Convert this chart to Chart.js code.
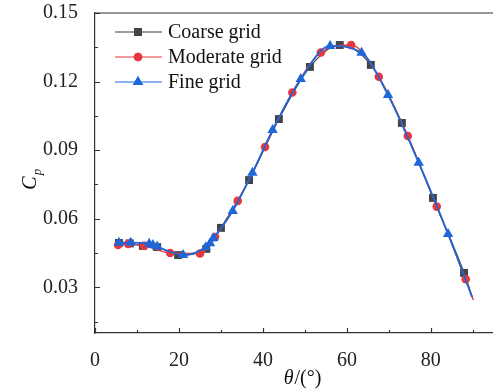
<!DOCTYPE html>
<html>
<head>
<meta charset="utf-8">
<title>Cp vs theta</title>
<style>
  body { margin: 0; background: #fff; overflow: hidden; }
  #wrap { width: 493px; height: 390px; position: relative; }
</style>
</head>
<body>
<div id="wrap"><canvas id="myChart"></canvas></div>
<script src="https://cdn.jsdelivr.net/npm/chart.js"></script>
<script>
// marker points
const coarseTheta = [5.7, 8.3, 11.4, 14.8, 19.8, 26.5, 30.0, 36.7, 43.8, 51.2, 58.3, 65.7, 73.1, 80.5, 87.9];
const coarseCp    = [0.0494, 0.0492, 0.0481, 0.0476, 0.0441, 0.0468, 0.0560, 0.0769, 0.1036, 0.1264, 0.1360, 0.1273, 0.1019, 0.0691, 0.0363];
const coarseEnd   = [90.0, 0.0250];

const moderateTheta = [5.5, 7.9, 11.7, 17.9, 25.0, 28.6, 34.0, 40.5, 47.0, 53.8, 61.0, 67.6, 74.5, 81.4, 88.3];
const moderateCp    = [0.0485, 0.0490, 0.0481, 0.0450, 0.0448, 0.0520, 0.0678, 0.0914, 0.1152, 0.1327, 0.1360, 0.1221, 0.0962, 0.0653, 0.0335];
const moderateEnd   = [90.1, 0.0244];

const fineTheta = [5.7, 8.5, 12.9, 13.8, 14.8, 21.0, 26.4, 27.4, 28.2, 32.8, 37.5, 42.3, 49.0, 56.0, 63.5, 69.8, 77.1, 84.1];
const fineCp    = [0.0495, 0.0495, 0.0490, 0.0485, 0.0478, 0.0441, 0.0475, 0.0493, 0.0514, 0.0634, 0.0801, 0.0988, 0.1211, 0.1356, 0.1326, 0.1141, 0.0845, 0.0533];
const fineEnd   = [89.8, 0.0258];

const thetaTicks = [0, 20, 40, 60, 80];
const thetaMinor = [10, 30, 50, 70, 90];
const cpTicks = [0.03, 0.06, 0.09, 0.12, 0.15];
const cpMinor = [0.015, 0.045, 0.075, 0.105, 0.135];

const seriesNames = ['Coarse grid', 'Moderate grid', 'Fine grid'];

const FONT = '"Liberation Serif", "Times New Roman", serif';
const AXIS = '#333333';

function toPoints(theta, cp, end) {
    const pts = theta.map((t, i) => ({ x: t, y: cp[i] }));
    pts.push({ x: end[0], y: end[1] });
    return pts;
}

function makeSet(label, theta, cp, end, color, style, radius, width, order) {
    return {
        label: label,
        data: toPoints(theta, cp, end),
        borderColor: color,
        backgroundColor: color,
        borderWidth: width,
        pointStyle: style,
        pointRadius: ctx => (ctx.dataIndex < theta.length ? radius : 0),
        pointBorderWidth: 0,
        pointBackgroundColor: style === 'rect' ? '#444444' : color,
        cubicInterpolationMode: 'monotone',
        fill: false,
        order: order
    };
}

const datasets = [
    makeSet(seriesNames[0], coarseTheta, coarseCp, coarseEnd, '#3a3a3a', 'rect', 5.6, 1.2, 2),
    makeSet(seriesNames[1], moderateTheta, moderateCp, moderateEnd, '#e8383d', 'circle', 4.3, 1.3, 1),
    makeSet(seriesNames[2], fineTheta, fineCp, fineEnd, '#1f66d8', 'triangle', 6, 1.8, 0)
];

// inward ticks, top frame line, legend and axis titles
const decor = {
    id: 'decor',
    afterDraw(chart) {
        const ctx = chart.ctx;
        const a = chart.chartArea;
        const xs = chart.scales.x;
        const ys = chart.scales.y;
        ctx.save();
        ctx.strokeStyle = AXIS;
        ctx.lineWidth = 1.2;

        ctx.beginPath();
        ctx.moveTo(a.left, a.top);
        ctx.lineTo(a.right, a.top);
        thetaTicks.forEach(v => {
            const px = Math.round(xs.getPixelForValue(v)) + 0.5;
            ctx.moveTo(px, a.bottom);
            ctx.lineTo(px, a.bottom - 5);
        });
        thetaMinor.forEach(v => {
            const px = Math.round(xs.getPixelForValue(v)) + 0.5;
            ctx.moveTo(px, a.bottom);
            ctx.lineTo(px, a.bottom - 3);
        });
        cpTicks.forEach(v => {
            const py = Math.round(ys.getPixelForValue(v)) + 0.5;
            ctx.moveTo(a.left, py);
            ctx.lineTo(a.left + 5, py);
        });
        cpMinor.forEach(v => {
            const py = Math.round(ys.getPixelForValue(v)) + 0.5;
            ctx.moveTo(a.left, py);
            ctx.lineTo(a.left + 3, py);
        });
        ctx.stroke();

        // legend
        [0, 1, 2].forEach(i => {
            const ds = chart.data.datasets[i];
            const yy = 32 + i * 25;
            ctx.strokeStyle = ds.borderColor;
            ctx.lineWidth = 1.2;
            ctx.beginPath();
            ctx.moveTo(115, yy);
            ctx.lineTo(162, yy);
            ctx.stroke();
            ctx.fillStyle = ds.pointBackgroundColor;
            const r = ds.pointStyle === 'rect' ? 5.6 : (ds.pointStyle === 'circle' ? 4.3 : 6);
            Chart.helpers.drawPoint(ctx, { pointStyle: ds.pointStyle, radius: r, borderWidth: 0 }, 138, yy);
            ctx.fill();
            ctx.fillStyle = '#111';
            ctx.font = '20px ' + FONT;
            ctx.textBaseline = 'middle';
            ctx.textAlign = 'left';
            ctx.fillText(ds.label, 168, yy + 1);
        });

        // x title: θ/(°)
        ctx.fillStyle = '#111';
        ctx.textBaseline = 'alphabetic';
        ctx.font = '20px ' + FONT;
        const t2 = '/(\u00b0)';
        const w2 = ctx.measureText(t2).width;
        ctx.font = 'italic 20px ' + FONT;
        const t1 = '\u03b8';
        const w1 = ctx.measureText(t1).width;
        const cx = 302;
        const sx = cx - (w1 + w2) / 2;
        ctx.textAlign = 'left';
        ctx.fillText(t1, sx, 384);
        ctx.font = '20px ' + FONT;
        ctx.fillText(t2, sx + w1 + 1, 384);

        // y title: C_p rotated
        ctx.translate(36, 180);
        ctx.rotate(-Math.PI / 2);
        ctx.font = 'italic 20px ' + FONT;
        const wc = ctx.measureText('C').width;
        ctx.fillText('C', -wc / 2 - 3, 0);
        ctx.font = 'italic 13px ' + FONT;
        ctx.fillText('p', wc / 2 - 2, 5);
        ctx.restore();
    }
};

new Chart(document.getElementById('myChart'), {
    type: 'line',
    data: { datasets: datasets },
    options: {
        responsive: true,
        maintainAspectRatio: false,
        animation: false,
        layout: { autoPadding: false, padding: { top: 13, right: 0, left: 0, bottom: 0 } },
        plugins: {
            legend: { display: false },
            tooltip: { enabled: false }
        },
        scales: {
            x: {
                type: 'linear',
                min: 0,
                max: 94.8,
                afterBuildTicks: s => { s.ticks = thetaTicks.map(v => ({ value: v })); },
                afterFit: s => { s.height = 57; s.paddingLeft = 0; s.paddingRight = 0; },
                grid: { display: false },
                border: { display: true, color: AXIS, width: 1.2 },
                ticks: {
                    padding: 8,
                    maxRotation: 0,
                    color: '#222',
                    font: { family: FONT, size: 20 },
                    callback: v => String(v)
                }
            },
            y: {
                type: 'linear',
                min: 0.01,
                max: 0.15,
                afterBuildTicks: s => { s.ticks = cpTicks.map(v => ({ value: v })); },
                afterFit: s => { s.width = 95; s.paddingTop = 0; s.paddingBottom = 0; },
                grid: { display: false },
                border: { display: true, color: AXIS, width: 1.2 },
                ticks: {
                    padding: 9,
                    color: '#222',
                    font: { family: FONT, size: 20 },
                    callback: v => v.toFixed(2)
                }
            }
        }
    },
    plugins: [decor]
});
</script>
</body>
</html>
